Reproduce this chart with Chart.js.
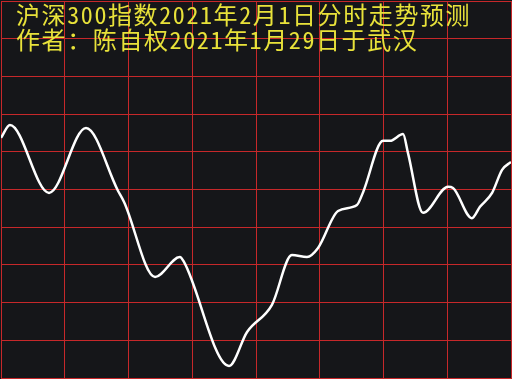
<!DOCTYPE html>
<html>
<head>
<meta charset="utf-8">
<script src="https://cdn.jsdelivr.net/npm/chart.js"></script>
<style>
  html, body { margin: 0; padding: 0; background: #151619; }
  #box { width: 512px; height: 379px; }
</style>
</head>
<body>
<div id="box"><canvas id="fchart" width="512" height="379"></canvas></div>
<script>
// minutes since open (240 trading minutes)
const minutes = [0, 4.2, 22.6, 40.0, 55.1, 57.9, 72.5, 84.2, 86.1, 107.3,
    115.8, 127.5, 136.9, 144.0, 149.2, 158.6, 167.5, 170.4, 179.8, 183.1,
    189.2, 191.5, 198.6, 210.4, 212.7, 221.6, 225.4, 231.1, 235.8, 240];
// forecast level, in grid rows (0 = bottom, 10 = top)
const levels = [6.37, 6.71, 4.91, 6.63, 4.96, 4.67, 2.68, 3.21, 3.08, 0.32,
    1.22, 1.94, 3.26, 3.21, 3.45, 4.43, 4.59, 4.93, 6.29, 6.29,
    6.47, 5.97, 4.38, 5.07, 5.04, 4.24, 4.54, 4.91, 5.52, 5.73];
const titleLines = ['沪深300指数2021年2月1日分时走势预测', '作者：陈自权2021年1月29日于武汉'];

var points = minutes.map(function(m, i) { return {x: m, y: levels[i]}; });

var bgPlugin = {
    id: 'bg',
    beforeDraw: function(chart) {
        var c = chart.ctx;
        c.save();
        c.fillStyle = '#151619';
        c.fillRect(0, 0, chart.width, chart.height);
        c.restore();
    },
    afterDraw: function(chart) {
        var c = chart.ctx;
        c.save();
        c.fillStyle = '#e8e23a';
        c.font = '24px "Noto Sans Mono CJK SC", "Noto Sans CJK SC", sans-serif';
        c.letterSpacing = '1.6px';
        c.textBaseline = 'middle';
        c.fillText(titleLines[0], 16, 15);
        c.fillText(titleLines[1], 16, 39.5);
        c.restore();
    }
};

var grid = {
    color: '#c6282a',
    lineWidth: 1,
    drawTicks: false
};

var config = {
    type: 'line',
    data: {
        datasets: [{
            data: points,
            borderColor: '#ffffff',
            borderWidth: 2.5,
            pointRadius: 0,
            fill: false,
            cubicInterpolationMode: 'monotone'
        }]
    },
    options: {
        responsive: false,
        animation: false,
        layout: { padding: { left: 1, right: 1, top: 1, bottom: 1 } },
        plugins: { legend: { display: false }, tooltip: { enabled: false } },
        scales: {
            x: {
                type: 'linear', min: 0, max: 240,
                ticks: { display: false, stepSize: 30 },
                grid: grid,
                border: { color: '#c6282a' }
            },
            y: {
                min: 0, max: 10,
                ticks: { display: false, stepSize: 1 },
                grid: grid,
                border: { color: '#c6282a' }
            }
        }
    },
    plugins: [bgPlugin]
};

var fchart = new Chart(document.getElementById('fchart').getContext('2d'), config);
</script>
</body>
</html>
